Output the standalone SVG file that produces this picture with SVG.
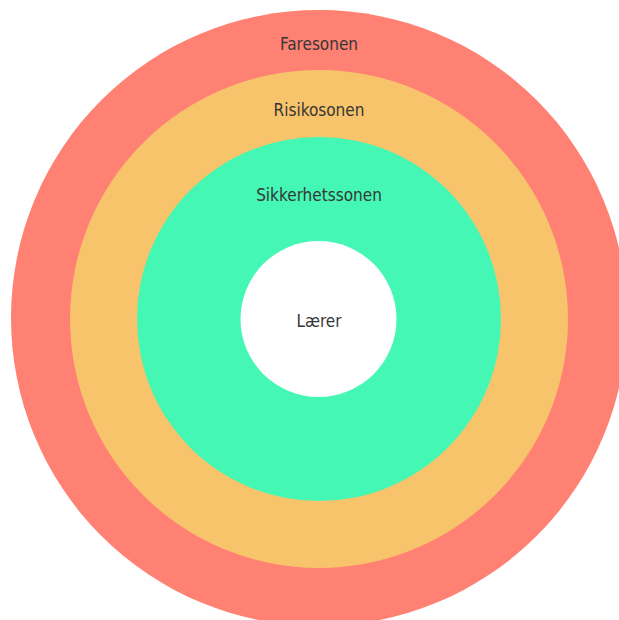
<svg xmlns="http://www.w3.org/2000/svg" width="619" height="620" viewBox="0 0 619 620">
<style>
.lbl{font-family:"DejaVu Sans Condensed","Liberation Sans",Arial,sans-serif;font-size:17px;fill:#363636;text-anchor:middle}
</style>
<rect width="619" height="620" fill="#ffffff"/>
<g id="faresonen"><circle cx="319" cy="318" r="308" fill="#FF8173"/><text class="lbl" x="319" y="50">Faresonen</text></g>
<g id="risikosonen"><circle cx="319" cy="319" r="249" fill="#F7C36B"/><text class="lbl" x="319" y="116">Risikosonen</text></g>
<g id="sikkerhetssonen"><circle cx="319" cy="319" r="182" fill="#45F7B5"/><text class="lbl" x="319" y="201">Sikkerhetssonen</text></g>
<g id="laerer"><circle cx="318.5" cy="319" r="78" fill="#ffffff"/><text class="lbl" x="319" y="327">Lærer</text></g>
<g id="connectors"/>
</svg>
